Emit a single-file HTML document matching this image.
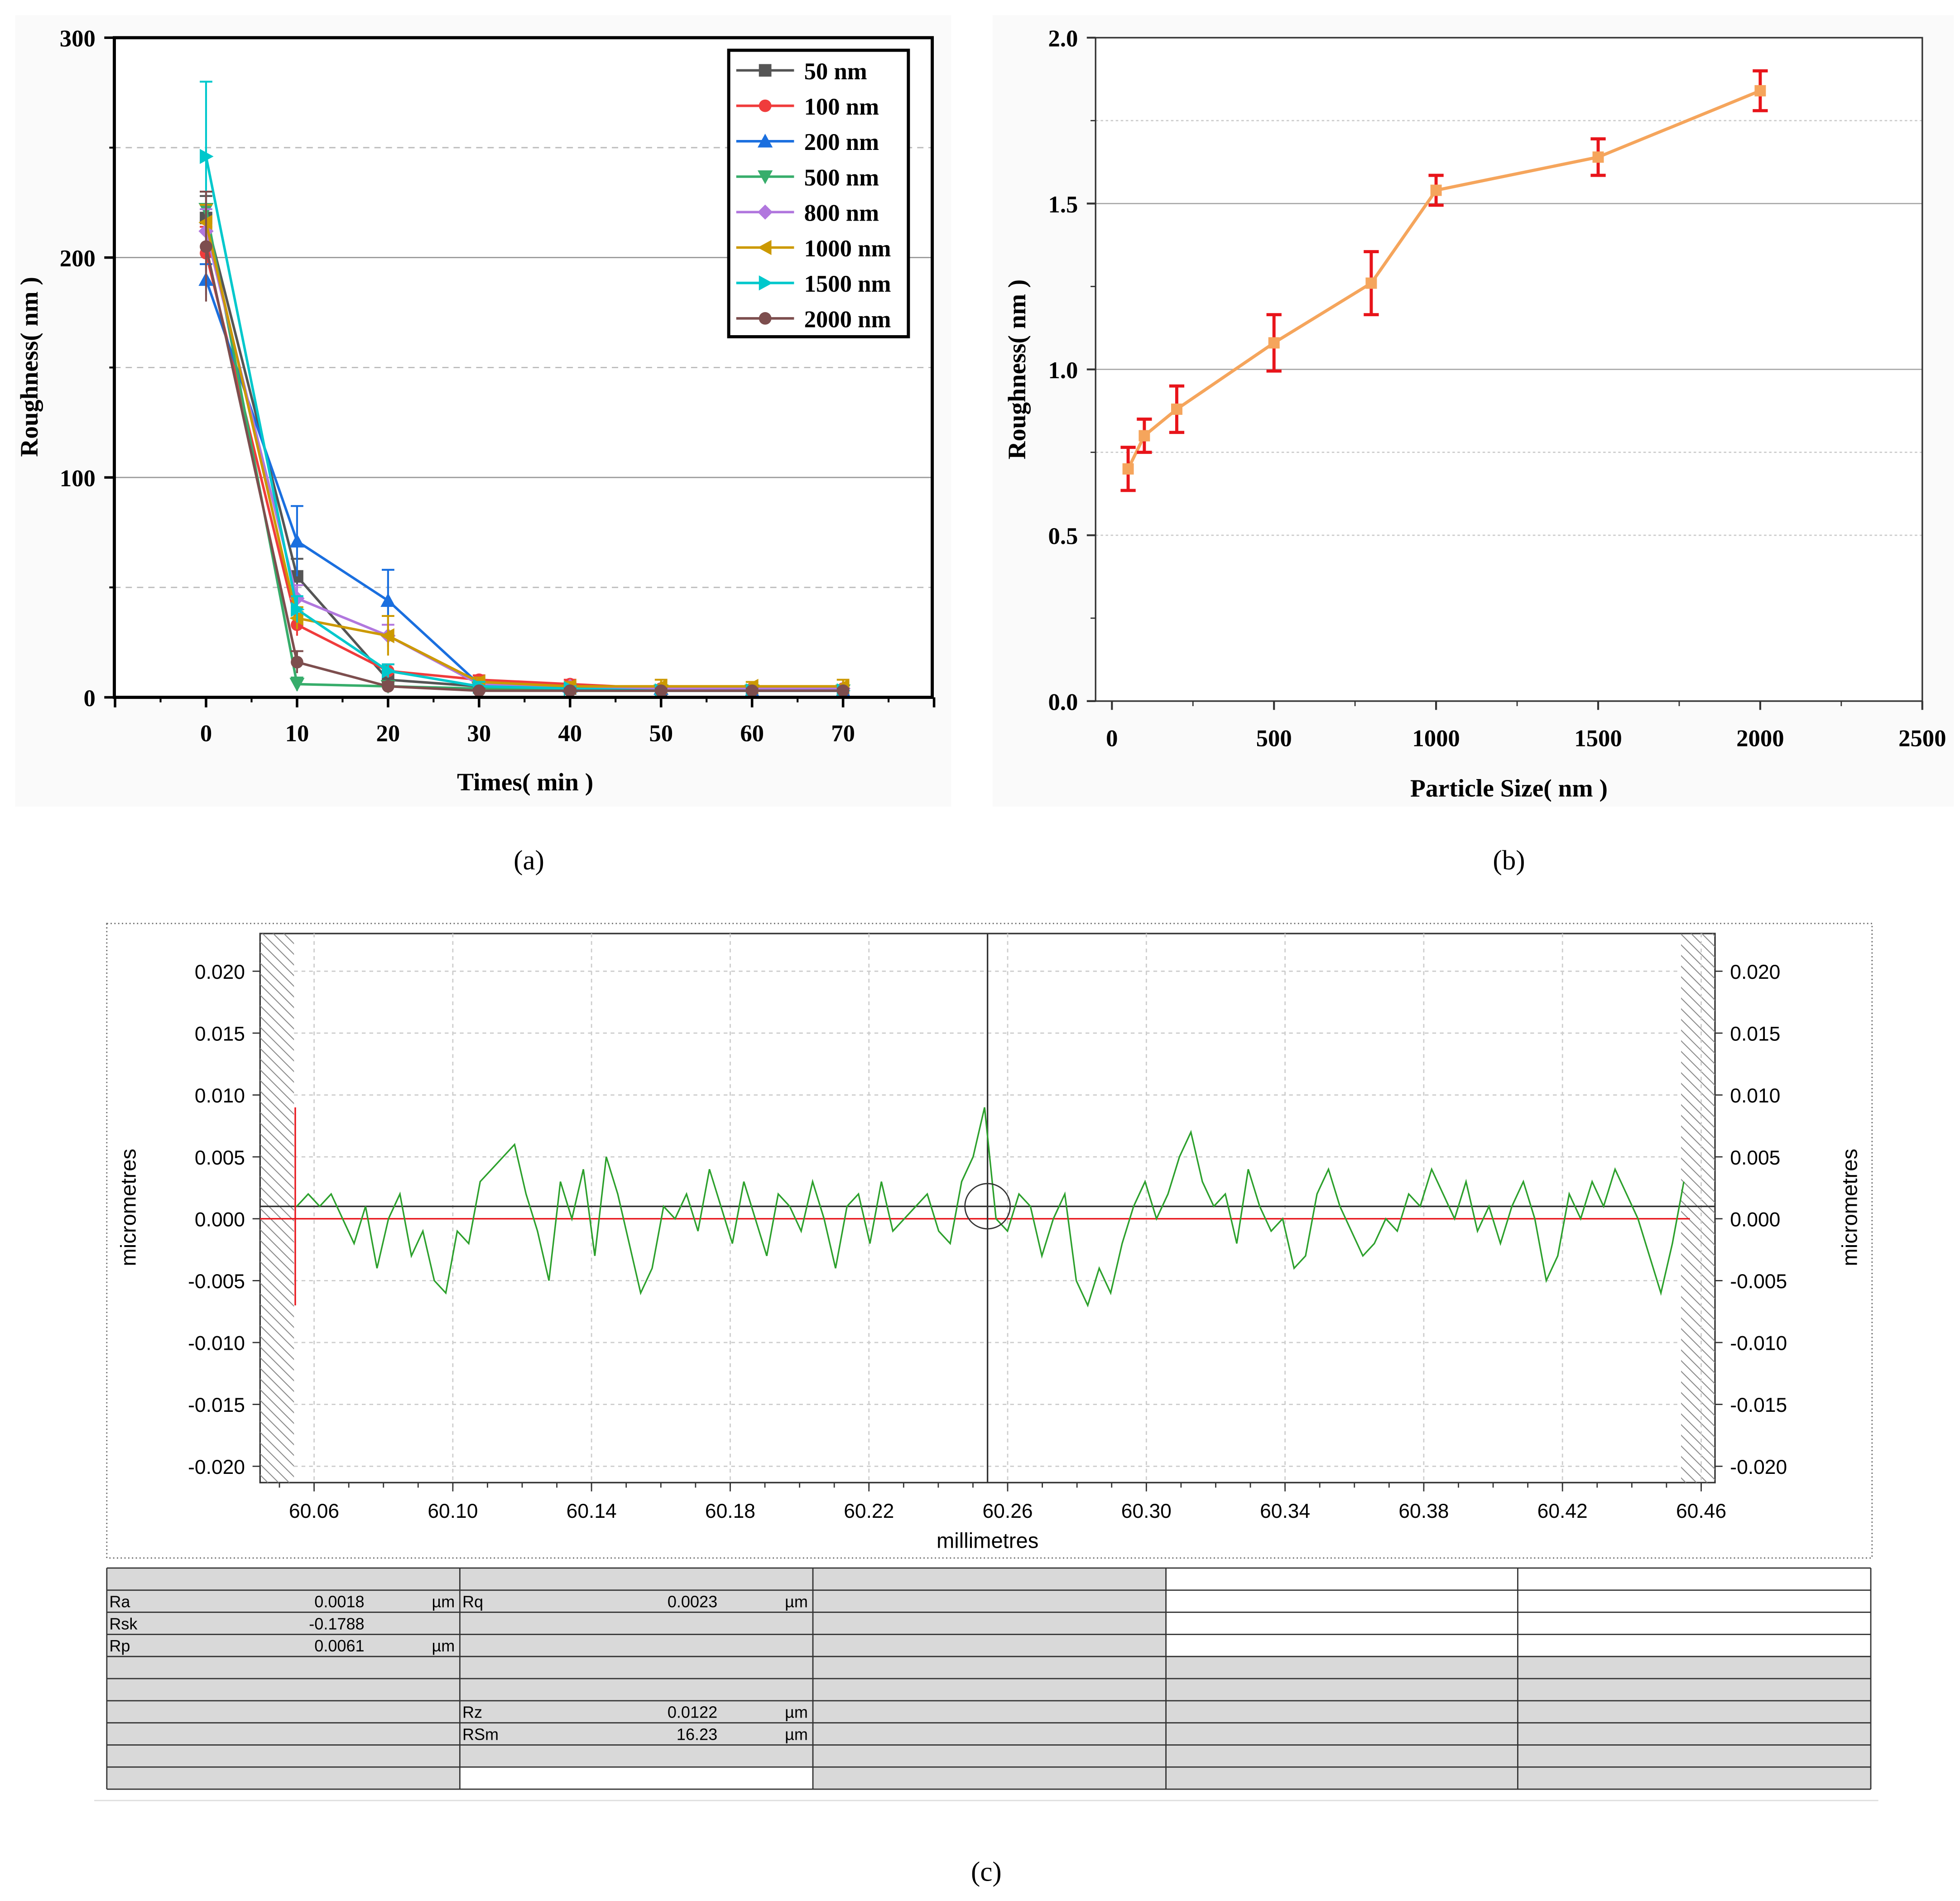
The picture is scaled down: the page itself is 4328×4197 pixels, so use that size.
<!DOCTYPE html>
<html><head><meta charset="utf-8"><style>
html,body{margin:0;padding:0;background:#fff}
svg{display:block}
</style></head><body>
<svg id="root" xmlns="http://www.w3.org/2000/svg" width="4328" height="4197" viewBox="0 0 1560 1513" preserveAspectRatio="none">
<rect width="1560" height="1513" fill="#fff"/>
<g id="ga"></g>
<g id="gb"></g>
<g id="gc"></g>
<text x="421" y="692" font-family="Liberation Serif, serif" font-size="22" text-anchor="middle">(a)</text>
<text x="1201" y="692" font-family="Liberation Serif, serif" font-size="22" text-anchor="middle">(b)</text>
<text x="785" y="1497" font-family="Liberation Serif, serif" font-size="22" text-anchor="middle">(c)</text>
</svg>
<script>
// ---------- Chart (a) data ----------
const timesA = [0,10,20,30,40,50,60,70];
const seriesNames = ["50 nm","100 nm","200 nm","500 nm","800 nm","1000 nm","1500 nm","2000 nm"];
const s50 = [218,55,8,5,4,3,3,3];
const s100 = [202,33,12,8,6,4,4,4];
const s200 = [190,71,44,6,5,4,3,3];
const s500 = [222,6,5,4,3,3,3,3];
const s800 = [212,45,28,6,5,4,4,4];
const s1000 = [216,36,28,7,5,5,5,5];
const s1500 = [246,40,12,5,4,3,3,3];
const s2000 = [205,16,5,3,3,3,3,3];
const e50 = [10,8,4,2,1,1,1,1];
const e100 = [12,5,3,2,2,1,1,1];
const e200 = [7,16,14,2,1,1,1,1];
const e500 = [8,3,2,1,1,1,1,1];
const e800 = [10,6,5,2,1,1,1,1];
const e1000 = [8,5,9,2,2,3,2,3];
const e1500 = [34,6,3,2,1,1,1,1];
const e2000 = [25,5,2,1,1,1,1,1];
const xTicksA = [0,10,20,30,40,50,60,70];
const yTicksA = [0,100,200,300];
// ---------- Chart (b) data ----------
const sizesB = [50,100,200,500,800,1000,1500,2000];
const roughB = [0.70,0.80,0.88,1.08,1.26,1.54,1.64,1.84];
const errB = [0.065,0.05,0.07,0.085,0.095,0.045,0.055,0.06];
const xTicksB = [0,500,1000,1500,2000,2500];
const yTicksB = ["0.0","0.5","1.0","1.5","2.0"];
// ---------- Chart (c) data ----------
const profileStart = 60.055, profileEnd = 60.455;
const profileVals = [1,2,1,2,0,-2,1,-4,0,2,-3,-1,-5,-6,-1,-2,3,4,5,6,2,-1,-5,3,0,4,-3,5,2,-2,-6,-4,1,0,2,-1,4,1,-2,3,0,-3,2,1,-1,3,0,-4,1,2,-2,3,-1,0,1,2,-1,-2,3,5,9,0,-1,2,1,-3,0,2,-5,-7,-4,-6,-2,1,3,0,2,5,7,3,1,2,-2,4,1,-1,0,-4,-3,2,4,1,-1,-3,-2,0,-1,2,1,4,2,0,3,-1,1,-2,1,3,0,-5,-3,2,0,3,1,4,2,0,-3,-6,-2,3];
const xTicksC = ["60.06","60.10","60.14","60.18","60.22","60.26","60.30","60.34","60.38","60.42","60.46"];
const yTicksC = ["0.020","0.015","0.010","0.005","0.000","-0.005","-0.010","-0.015","-0.020"];
const tableLabels = [["Ra","0.0018","µm","Rq","0.0023","µm"],["Rsk","-0.1788","","","",""],["Rp","0.0061","µm","","",""]];

const NS="http://www.w3.org/2000/svg";
function mk(p,tag,attrs,txt){const e=document.createElementNS(NS,tag);for(const k in attrs)e.setAttribute(k,attrs[k]);if(txt!==undefined)e.textContent=txt;p.appendChild(e);return e;}
const SERIF="Liberation Serif, serif", SANS="Liberation Sans, sans-serif";

// ===== Chart A =====
(function(){
const g=document.getElementById('ga');
const L=91,R=742,T=30,B=555;
const xA=v=>164+(v)*7.243, yA=v=>B-v*1.75;
mk(g,'rect',{x:12,y:12,width:745,height:630,fill:'#fafafa'});
mk(g,'rect',{x:L,y:T,width:R-L,height:B-T,fill:'#fff'});
[50,150,250].forEach(v=>{const l=mk(g,'line',{x1:L,x2:R,y1:yA(v),y2:yA(v),stroke:'#bbb','stroke-dasharray':'5,4'});});
[100,200].forEach(v=>{const l=mk(g,'line',{x1:L,x2:R,y1:yA(v),y2:yA(v),stroke:'#999'});});
const data=[s50,s100,s200,s500,s800,s1000,s1500,s2000];
const errs=[e50,e100,e200,e500,e800,e1000,e1500,e2000];
const cols=['#555555','#f03c3c','#1a6fdf','#37ad6b','#b177de','#cc9900','#00c8cc','#7d4e4e'];
const shapes=['sq','ci','tu','td','di','tl','tr','ci'];
function marker(p,s,x,y,c){const r=5;let e;
 if(s==='sq')e=mk(p,'rect',{x:x-r,y:y-r,width:2*r,height:2*r,fill:c});
 else if(s==='ci')e=mk(p,'circle',{cx:x,cy:y,r:r,fill:c});
 else{let pts;
  if(s==='tu')pts=[[0,-6],[6,5],[-6,5]];if(s==='td')pts=[[0,6],[6,-5],[-6,-5]];
  if(s==='di')pts=[[0,-6],[6,0],[0,6],[-6,0]];if(s==='tl')pts=[[-6,0],[5,-6],[5,6]];if(s==='tr')pts=[[6,0],[-5,-6],[-5,6]];
  e=mk(p,'polygon',{points:pts.map(q=>(x+q[0])+','+(y+q[1])).join(' '),fill:c});}
 return e;}
data.forEach((d,i)=>{
 const sg=mk(g,'g',{});
 d.forEach((v,j)=>{const x=xA(timesA[j]);mk(sg,'line',{x1:x,x2:x,y1:yA(v),y2:yA(v+errs[i][j]),stroke:cols[i],'stroke-width':1.5});mk(sg,'line',{x1:x-5,x2:x+5,y1:yA(v+errs[i][j]),y2:yA(v+errs[i][j]),stroke:cols[i],'stroke-width':1.5});mk(sg,'line',{x1:x,x2:x,y1:yA(v),y2:yA(Math.max(0,v-errs[i][j])),stroke:cols[i],'stroke-width':1.5});});
 mk(sg,'polyline',{points:d.map((v,j)=>xA(timesA[j])+','+yA(v)).join(' '),fill:'none',stroke:cols[i],'stroke-width':2});
 d.forEach((v,j)=>{const m=marker(sg,shapes[i],xA(timesA[j]),yA(v),cols[i]);});
});
mk(g,'rect',{x:L,y:T,width:R-L,height:B-T,fill:'none',stroke:'#000','stroke-width':2.5});
xTicksA.forEach(v=>{mk(g,'line',{x1:xA(v),x2:xA(v),y1:B,y2:B+8,stroke:'#000','stroke-width':2});const t=mk(g,'text',{x:xA(v),y:B+35,'font-family':SERIF,'font-size':19,'font-weight':'bold','text-anchor':'middle'},v);});
[-10,80].forEach(v=>mk(g,'line',{x1:xA(v),x2:xA(v),y1:B,y2:B+8,stroke:'#000','stroke-width':2}));
[-5,5,15,25,35,45,55,65,75].forEach(v=>mk(g,'line',{x1:xA(v),x2:xA(v),y1:B,y2:B+4,stroke:'#000','stroke-width':1.5}));
yTicksA.forEach(v=>{mk(g,'line',{x1:L,x2:L-8,y1:yA(v),y2:yA(v),stroke:'#000','stroke-width':2});const t=mk(g,'text',{x:L-15,y:yA(v)+7,'font-family':SERIF,'font-size':19,'font-weight':'bold','text-anchor':'end'},v);});
[50,150,250].forEach(v=>mk(g,'line',{x1:L,x2:L-4,y1:yA(v),y2:yA(v),stroke:'#000','stroke-width':1.5}));
let t=mk(g,'text',{x:418,y:629,'font-family':SERIF,'font-size':20,'font-weight':'bold','text-anchor':'middle'},'Times( min )');
t=mk(g,'text',{x:30,y:292,'font-family':SERIF,'font-size':20,'font-weight':'bold','text-anchor':'middle',transform:'rotate(-90 30 292)'},'Roughness( nm )');
const lg=mk(g,'g',{});
mk(lg,'rect',{x:580,y:40,width:143,height:228,fill:'#fff',stroke:'#000','stroke-width':2.5});
seriesNames.forEach((n,i)=>{const y=56+i*28.2;const e=mk(lg,'g',{});
 mk(e,'line',{x1:586,x2:632,y1:y,y2:y,stroke:cols[i],'stroke-width':2});marker(e,shapes[i],609,y,cols[i]);
 mk(e,'text',{x:640,y:y+7,'font-family':SERIF,'font-size':19,'font-weight':'bold'},n);});
})();

// ===== Chart B =====
(function(){
const g=document.getElementById('gb');
const L=872,R=1530,T=30,B=558;
const xB=v=>885+v*0.258, yB=v=>B-v*264;
mk(g,'rect',{x:790,y:12,width:765,height:630,fill:'#fafafa'});
mk(g,'rect',{x:L,y:T,width:R-L,height:B-T,fill:'#fff'});
[0.5,0.75,1.75].forEach(v=>{const l=mk(g,'line',{x1:L,x2:R,y1:yB(v),y2:yB(v),stroke:'#ccc','stroke-dasharray':'2,2'});});
[1.0,1.5].forEach(v=>{const l=mk(g,'line',{x1:L,x2:R,y1:yB(v),y2:yB(v),stroke:'#aaa'});});
mk(g,'rect',{x:L,y:T,width:R-L,height:B-T,fill:'none',stroke:'#333','stroke-width':1.2});
const sg=mk(g,'g',{});
mk(sg,'polyline',{points:sizesB.map((s,i)=>xB(s)+','+yB(roughB[i])).join(' '),fill:'none',stroke:'#f5a55c','stroke-width':2.5});
sizesB.forEach((s,i)=>{const x=xB(s),y1=yB(roughB[i]+errB[i]),y2=yB(roughB[i]-errB[i]);
 const eb=mk(sg,'g',{});
 mk(eb,'line',{x1:x,x2:x,y1:y1,y2:y2,stroke:'#e8141a','stroke-width':2.5});
 mk(eb,'line',{x1:x-6,x2:x+6,y1:y1,y2:y1,stroke:'#e8141a','stroke-width':2.5});
 mk(eb,'line',{x1:x-6,x2:x+6,y1:y2,y2:y2,stroke:'#e8141a','stroke-width':2.5});
 const m=mk(sg,'rect',{x:x-4.5,y:yB(roughB[i])-4.5,width:9,height:9,fill:'#f5a55c'});});
xTicksB.forEach(v=>{mk(g,'line',{x1:xB(v),x2:xB(v),y1:B,y2:B+7,stroke:'#333','stroke-width':1.5});const t=mk(g,'text',{x:xB(v),y:B+36,'font-family':SERIF,'font-size':19,'font-weight':'bold','text-anchor':'middle'},v);});
[250,750,1250,1750,2250].forEach(v=>mk(g,'line',{x1:xB(v),x2:xB(v),y1:B,y2:B+4,stroke:'#333'}));
yTicksB.forEach(v=>{const y=yB(parseFloat(v));mk(g,'line',{x1:L,x2:L-7,y1:y,y2:y,stroke:'#333','stroke-width':1.5});const t=mk(g,'text',{x:L-14,y:y+7,'font-family':SERIF,'font-size':19,'font-weight':'bold','text-anchor':'end'},v);});
[0.25,0.75,1.25,1.75].forEach(v=>mk(g,'line',{x1:L,x2:L-4,y1:yB(v),y2:yB(v),stroke:'#333'}));
let t=mk(g,'text',{x:1201,y:634,'font-family':SERIF,'font-size':20,'font-weight':'bold','text-anchor':'middle'},'Particle Size( nm )');
t=mk(g,'text',{x:816,y:294,'font-family':SERIF,'font-size':20,'font-weight':'bold','text-anchor':'middle',transform:'rotate(-90 816 294)'},'Roughness( nm )');
})();

// ===== Chart C =====
(function(){
const g=document.getElementById('gc');
const L=207,R=1365,T=743,B=1180;
const xC=v=>250+(v-60.06)*2760, yC=v=>970-v*9850;
mk(g,'rect',{x:85,y:735,width:1405,height:505,fill:'none',stroke:'#666','stroke-dasharray':'1,2'});
mk(g,'rect',{x:L,y:T,width:R-L,height:B-T,fill:'#fff',stroke:'#333','stroke-width':1.2});
const defs=mk(g,'defs',{});const pat=mk(defs,'pattern',{id:'hatch',width:6,height:6,patternUnits:'userSpaceOnUse',patternTransform:'rotate(-45)'});
mk(pat,'line',{x1:0,y1:0,x2:0,y2:6,stroke:'#888','stroke-width':1.5});
let h=mk(g,'rect',{x:L,y:T,width:27,height:B-T,fill:'url(#hatch)'});
h=mk(g,'rect',{x:1338,y:T,width:27,height:B-T,fill:'url(#hatch)'});
yTicksC.forEach(v=>{const y=yC(parseFloat(v));mk(g,'line',{x1:234,x2:1338,y1:y,y2:y,stroke:'#ccc','stroke-dasharray':'3,3'});
 mk(g,'line',{x1:L-6,x2:L,y1:y,y2:y,stroke:'#333'});mk(g,'line',{x1:R,x2:R+6,y1:y,y2:y,stroke:'#333'});
 let t=mk(g,'text',{x:L-12,y:y+6,'font-family':SANS,'font-size':16,'text-anchor':'end'},v);
 t=mk(g,'text',{x:R+12,y:y+6,'font-family':SANS,'font-size':16},v);});
xTicksC.forEach(v=>{const x=xC(parseFloat(v));mk(g,'line',{x1:x,x2:x,y1:T,y2:B,stroke:'#ccc','stroke-dasharray':'3,3'});
 mk(g,'line',{x1:x,x2:x,y1:B,y2:B+7,stroke:'#333'});
 const t=mk(g,'text',{x:x,y:B+28,'font-family':SANS,'font-size':16,'text-anchor':'middle'},v);});
for(let v=60.05;v<60.47;v+=0.01){const x=xC(v);if(x>L&&x<R)mk(g,'line',{x1:x,x2:x,y1:B,y2:B+4,stroke:'#333'});}
let l=mk(g,'line',{x1:L,x2:1345,y1:yC(0),y2:yC(0),stroke:'#e8141a','stroke-width':1.2});
l=mk(g,'line',{x1:L,x2:R,y1:yC(0.001),y2:yC(0.001),stroke:'#333','stroke-width':1.2});
l=mk(g,'line',{x1:786,x2:786,y1:T,y2:B,stroke:'#333','stroke-width':1.2});
l=mk(g,'line',{x1:235,x2:235,y1:yC(0.009),y2:yC(-0.007),stroke:'#e8141a','stroke-width':1.2});
const n=profileVals.length;
const pl=mk(g,'polyline',{points:profileVals.map((v,i)=>xC(profileStart+(profileEnd-profileStart)*i/(n-1))+','+yC(v*0.001)).join(' '),fill:'none',stroke:'#2ca02c','stroke-width':1.2});

const c=mk(g,'circle',{cx:786,cy:960,r:18,fill:'none',stroke:'#333','stroke-width':1});
let t=mk(g,'text',{x:786,y:1232,'font-family':SANS,'font-size':17,'text-anchor':'middle'},'millimetres');
t=mk(g,'text',{x:108,y:961,'font-family':SANS,'font-size':17,'text-anchor':'middle',transform:'rotate(-90 108 961)'},'micrometres');
t=mk(g,'text',{x:1478,y:961,'font-family':SANS,'font-size':17,'text-anchor':'middle',transform:'rotate(-90 1478 961)'},'micrometres');
// table
const tb=mk(g,'g',{});
const colX=[85,366,647,928,1208,1489];const rows=10,rT=1248,rH=17.6;
mk(tb,'rect',{x:85,y:rT,width:1404,height:rows*rH,fill:'#d9d9d9'});
mk(tb,'rect',{x:928,y:rT,width:561,height:4*rH,fill:'#fff'});
mk(tb,'rect',{x:366,y:rT+9*rH,width:281,height:rH,fill:'#fff'});
for(let r=0;r<=rows;r++)mk(tb,'line',{x1:85,x2:1489,y1:rT+r*rH,y2:rT+r*rH,stroke:'#333','stroke-width':1});
colX.forEach(x=>mk(tb,'line',{x1:x,x2:x,y1:rT,y2:rT+rows*rH,stroke:'#333','stroke-width':1}));
function row(r,cells){const y=rT+(r+1)*rH-4;
 [[0,87,'start'],[1,290,'end'],[2,362,'end'],[3,368,'start'],[4,571,'end'],[5,643,'end']].forEach(([k,x,a])=>{if(cells[k]){const tt=mk(tb,'text',{x:x,y:y,'font-family':SANS,'font-size':13,'text-anchor':a},cells[k]);}});}
tableLabels.forEach((c,i)=>row(i+1,c));
row(6,["","","","Rz","0.0122","µm"]);row(7,["","","","RSm","16.23","µm"]);
mk(g,'line',{x1:75,x2:1495,y1:1433,y2:1433,stroke:'#ddd'});
})();
</script>
</body></html>
